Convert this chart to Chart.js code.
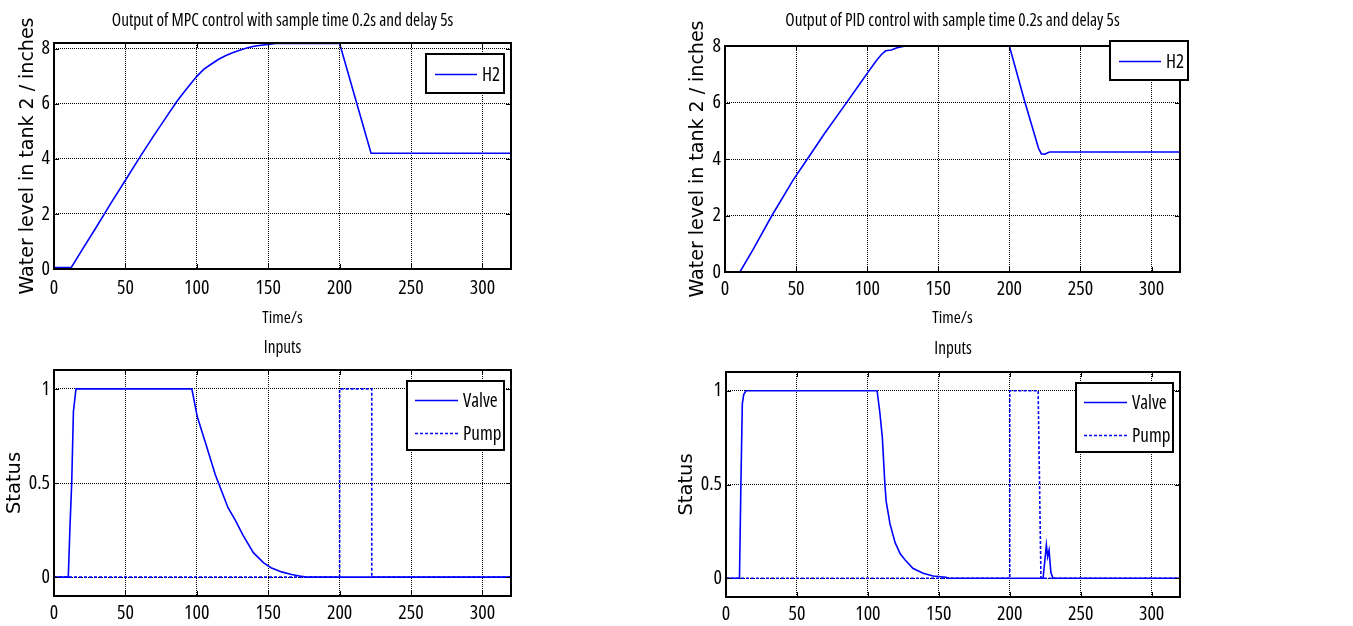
<!DOCTYPE html>
<html>
<head>
<meta charset="utf-8">
<title>MPC vs PID tank level</title>
<script src="https://cdn.jsdelivr.net/npm/chart.js@4.4.1/dist/chart.umd.min.js"></script>
<style>
    html, body { margin: 0; padding: 0; background: #fff; }
    .page { position: relative; width: 1353px; height: 626px; overflow: hidden; }
    .panel { position: absolute; }
    #panel-mpc-level { left: 0; top: 0; width: 530px; height: 330px; }
    #panel-pid-level { left: 671px; top: 0; width: 530px; height: 330px; }
    #panel-mpc-inputs { left: 0; top: 330px; width: 530px; height: 296px; }
    #panel-pid-inputs { left: 671px; top: 330px; width: 530px; height: 296px; }
</style>
</head>
<body>
<div class="page">
    <div class="panel" id="panel-mpc-level"><canvas id="mpcLevelChart"></canvas></div>
    <div class="panel" id="panel-pid-level"><canvas id="pidLevelChart"></canvas></div>
    <div class="panel" id="panel-mpc-inputs"><canvas id="mpcInputsChart"></canvas></div>
    <div class="panel" id="panel-pid-inputs"><canvas id="pidInputsChart"></canvas></div>
</div>
<script>
// tick labels
const timeTicks = [0, 50, 100, 150, 200, 250, 300];
const levelTicks = [0, 2, 4, 6, 8];
const statusTicks = [0, 0.5, 1];

// MPC - water level in tank 2
const mpcLevelTime = [0, 12, 20, 30, 40, 50, 60, 70, 80, 86, 90, 95, 100, 105, 110, 115, 120, 125, 130, 135, 140, 145, 150, 155, 200, 222, 320];
const mpcLevel = [0.05, 0.05, 0.72, 1.55, 2.4, 3.22, 4.05, 4.85, 5.62, 6.08, 6.35, 6.68, 6.99, 7.25, 7.43, 7.6, 7.74, 7.85, 7.94, 8.02, 8.08, 8.12, 8.15, 8.18, 8.18, 4.2, 4.2];

// PID - water level in tank 2
const pidLevelTime = [0, 10.5, 20, 33, 48, 59, 70, 86, 95, 100, 106, 110, 113, 117, 121, 127, 200, 211, 220.5, 222.5, 225, 227, 228.5, 320];
const pidLevel = [0, 0, 0.82, 2.0, 3.26, 4.08, 4.9, 6.03, 6.67, 7.03, 7.45, 7.7, 7.83, 7.86, 7.94, 8.0, 8.0, 6.0, 4.38, 4.18, 4.17, 4.22, 4.25, 4.25];

// MPC - inputs
const mpcValveTime = [0, 10, 11.2, 12.4, 13.6, 15.4, 96.5, 100.4, 106.6, 112.9, 121.8, 127.1, 132.5, 139.6, 146.8, 152, 159.3, 166.4, 173.6, 177, 320];
const mpcValve = [0, 0, 0.27, 0.5, 0.88, 1, 1, 0.85, 0.7, 0.545, 0.37, 0.3, 0.22, 0.13, 0.076, 0.05, 0.028, 0.014, 0.004, 0, 0];
const mpcPumpTime = [0, 200, 200, 222.5, 222.5, 320];
const mpcPump = [0, 0, 1, 1, 0, 0];

// PID - inputs
const pidValveTime = [0, 9.5, 10.5, 11.5, 12.5, 14, 106.5, 108.5, 110.2, 112, 112.9, 115.6, 119.2, 122.8, 126.3, 131.7, 138.9, 146, 155, 157, 223.5, 225.8, 226.7, 227.7, 229, 230.5, 320];
const pidValve = [0, 0, 0.5, 0.93, 0.98, 1, 1, 0.88, 0.75, 0.5, 0.41, 0.29, 0.19, 0.13, 0.097, 0.053, 0.027, 0.012, 0.005, 0, 0, 0.177, 0.115, 0.15, 0.03, 0, 0];
const pidPumpTime = [0, 200, 200, 220, 222, 320];
const pidPump = [0, 0, 1, 1, 0, 0];

(function () {
    const WIDE = "'DejaVu Sans', 'Liberation Sans', sans-serif";
    const BLUE = '#0000ff';

    // the original uses a narrow helvetica; look for something condensed that is installed
    function pickNarrowFont() {
        const ctx = document.createElement('canvas').getContext('2d');
        const sample = 'Output of control 0123456789';
        const measure = (font) => {
            ctx.font = font;
            return ctx.measureText(sample).width;
        };
        const base = measure("16px 'Liberation Sans'");
        const candidates = [
            { weight: 'normal', family: "'Liberation Sans Narrow'" },
            { weight: 'normal', family: "'DejaVu Sans Condensed'" },
            { weight: 'condensed', family: "'Liberation Sans'" },
            { weight: 'condensed', family: "'Noto Sans'" },
            { weight: 'condensed', family: "'Open Sans'" },
            { weight: 'condensed', family: 'Roboto' },
            { weight: 'condensed', family: "'DejaVu Sans'" },
        ];

        for (const c of candidates) {
            const w = measure(c.weight + ' 16px ' + c.family + ', monospace');
            const mono = measure(c.weight + ' 16px monospace');
            if (Math.abs(w - mono) > 1 && w / base < 0.9) {
                const size = Math.min(17, Math.round(16 * (0.86 * base / w) * 10) / 10);
                return { family: c.family + ", 'Liberation Sans', sans-serif", weight: c.weight, size: size };
            }
        }

        return { family: "'Liberation Sans', sans-serif", weight: 'normal', size: 14 };
    }

    const NARROW = pickNarrowFont();

    function narrowFont(scale, lineHeight) {
        return {
            family: NARROW.family,
            weight: NARROW.weight,
            size: Math.round(NARROW.size * (scale || 1) * 10) / 10,
            lineHeight: lineHeight || 1.2,
        };
    }

    function toPoints(xs, ys) {
        return xs.map((x, i) => ({ x: x, y: ys[i] }));
    }

    // black box round the axes with inward tick marks, like matlab
    const framePlugin = {
        id: 'matlabFrame',
        afterDatasetsDraw(chart) {
            const { ctx, chartArea: a, scales } = chart;
            ctx.save();
            ctx.strokeStyle = '#000';
            ctx.lineWidth = 1;
            ctx.setLineDash([]);
            ctx.beginPath();
            scales.x.ticks.forEach((t) => {
                const px = Math.round(scales.x.getPixelForValue(t.value)) + 0.5;
                ctx.moveTo(px, a.bottom); ctx.lineTo(px, a.bottom - 5);
                ctx.moveTo(px, a.top); ctx.lineTo(px, a.top + 5);
            });
            scales.y.ticks.forEach((t) => {
                const py = Math.round(scales.y.getPixelForValue(t.value)) + 0.5;
                ctx.moveTo(a.left, py); ctx.lineTo(a.left + 5, py);
                ctx.moveTo(a.right, py); ctx.lineTo(a.right - 5, py);
            });
            ctx.stroke();
            ctx.lineWidth = 2;
            ctx.strokeRect(a.left, a.top, a.right - a.left, a.bottom - a.top);
            ctx.restore();
        },
    };

    const legendBoxPlugin = {
        id: 'legendBox',
        afterDraw(chart, args, opts) {
            const { ctx, chartArea: a } = chart;
            const x = a.right - opts.right - opts.width;
            const y = a.top + opts.top;
            const f = narrowFont(1.12);
            ctx.save();
            ctx.fillStyle = '#fff';
            ctx.fillRect(x, y, opts.width, opts.height);
            ctx.strokeStyle = '#000';
            ctx.lineWidth = 2;
            ctx.setLineDash([]);
            ctx.strokeRect(x, y, opts.width, opts.height);
            ctx.font = f.weight + ' ' + f.size + 'px ' + f.family;
            ctx.textBaseline = 'middle';
            ctx.fillStyle = '#000';
            chart.data.datasets.forEach((ds, i) => {
                const rowY = Math.round(y + opts.firstRow + i * opts.rowGap) + 0.5;
                ctx.strokeStyle = ds.borderColor;
                ctx.lineWidth = 1.5;
                ctx.setLineDash(ds.borderDash || []);
                ctx.beginPath();
                ctx.moveTo(x + opts.lineStart, rowY);
                ctx.lineTo(x + opts.lineStart + opts.lineLength, rowY);
                ctx.stroke();
                ctx.fillText(ds.label, x + opts.lineStart + opts.lineLength + 5, rowY + 1);
            });
            ctx.restore();
        },
    };

    function makeChart(canvasId, cfg) {
        const canvas = document.getElementById(canvasId);

        if (!canvas) {
            return;
        }

        new Chart(canvas.getContext('2d'), {
            type: 'line',
            data: { datasets: cfg.datasets },
            plugins: [framePlugin, legendBoxPlugin],
            options: {
                responsive: true,
                maintainAspectRatio: false,
                animation: false,
                events: [],
                layout: { padding: { left: 0, right: cfg.padRight, top: 0, bottom: 0 } },
                elements: {
                    point: { radius: 0 },
                    line: { tension: 0, borderWidth: 1.6 },
                },
                plugins: {
                    legend: { display: false },
                    tooltip: { enabled: false },
                    title: {
                        display: true,
                        fullSize: false,
                        text: cfg.title,
                        color: '#000',
                        font: narrowFont(1.01, '18px'),
                        padding: cfg.titlePadding,
                    },
                    legendBox: cfg.legend,
                },
                scales: {
                    x: {
                        type: 'linear',
                        min: 0,
                        max: 320,
                        afterFit: (scale) => { scale.height = cfg.xHeight; },
                        afterBuildTicks: (scale) => { scale.ticks = timeTicks.map((v) => ({ value: v })); },
                        grid: { color: '#000', lineWidth: 1, drawTicks: false },
                        border: { display: false, dash: [1, 1] },
                        ticks: {
                            color: '#000',
                            padding: cfg.xTickPad,
                            maxRotation: 0,
                            font: narrowFont(1.17, '18px'),
                            callback: (v) => String(v),
                        },
                        title: {
                            display: !!cfg.xTitle,
                            text: cfg.xTitle || '',
                            color: '#000',
                            font: narrowFont(1, '18px'),
                            padding: { top: 0, bottom: 3 },
                        },
                    },
                    y: {
                        type: 'linear',
                        min: cfg.yMin,
                        max: cfg.yMax,
                        afterFit: (scale) => { scale.width = cfg.yWidth; },
                        afterBuildTicks: (scale) => { scale.ticks = cfg.yTicks.map((v) => ({ value: v })); },
                        grid: { color: '#000', lineWidth: 1, drawTicks: false },
                        border: { display: false, dash: [1, 1] },
                        ticks: {
                            color: '#000',
                            padding: 4,
                            font: narrowFont(1.17, '18px'),
                            callback: (v) => String(v),
                        },
                        title: {
                            display: true,
                            text: cfg.yTitle,
                            color: '#000',
                            font: { family: WIDE, size: cfg.yTitleSize, lineHeight: '20px' },
                            padding: { top: cfg.yTitlePad, bottom: 0 },
                        },
                    },
                },
            },
        });
    }

    function lineSet(label, xs, ys, dash) {
        return {
            label: label,
            data: toPoints(xs, ys),
            borderColor: BLUE,
            backgroundColor: BLUE,
            borderWidth: 1.6,
            borderDash: dash,
            fill: false,
            clip: 3,
        };
    }

    document.addEventListener('DOMContentLoaded', () => {
        if (!window.Chart) {
            return;
        }

        const oneRow = { width: 78, height: 39, firstRow: 19.5, rowGap: 33, lineStart: 9, lineLength: 42 };
        const twoRows = { width: 97, height: 69, firstRow: 19, rowGap: 33, lineStart: 8, lineLength: 43 };

        makeChart('mpcLevelChart', {
            title: 'Output of MPC control with sample time 0.2s and delay 5s',
            titlePadding: { top: 12, bottom: 13 },
            datasets: [lineSet('H2', mpcLevelTime, mpcLevel)],
            yTicks: levelTicks, yMin: 0, yMax: 8.2,
            yTitle: 'Water level in tank 2 / inches', yTitleSize: 19, yTitlePad: 18, yWidth: 54,
            xTitle: 'Time/s', xHeight: 61, xTickPad: 10, padRight: 19,
            legend: Object.assign({ right: 7, top: 11 }, oneRow),
        });

        makeChart('pidLevelChart', {
            title: 'Output of PID control with sample time 0.2s and delay 5s',
            titlePadding: { top: 12, bottom: 16 },
            datasets: [lineSet('H2', pidLevelTime, pidLevel)],
            yTicks: levelTicks, yMin: 0, yMax: 8,
            yTitle: 'Water level in tank 2 / inches', yTitleSize: 19, yTitlePad: 17, yWidth: 54,
            xTitle: 'Time/s', xHeight: 58, xTickPad: 8, padRight: 21,
            legend: Object.assign({ right: -8, top: -5 }, oneRow),
        });

        makeChart('mpcInputsChart', {
            title: 'Inputs',
            titlePadding: { top: 9, bottom: 13 },
            datasets: [
                lineSet('Valve', mpcValveTime, mpcValve),
                lineSet('Pump', mpcPumpTime, mpcPump, [3, 2]),
            ],
            yTicks: statusTicks, yMin: -0.1, yMax: 1.1,
            yTitle: 'Status', yTitleSize: 19.5, yTitlePad: 5, yWidth: 54,
            xTitle: '', xHeight: 30, xTickPad: 8, padRight: 19,
            legend: Object.assign({ right: 7, top: 11 }, twoRows),
        });

        makeChart('pidInputsChart', {
            title: 'Inputs',
            titlePadding: { top: 10, bottom: 14 },
            datasets: [
                lineSet('Valve', pidValveTime, pidValve),
                lineSet('Pump', pidPumpTime, pidPump, [3, 2]),
            ],
            yTicks: statusTicks, yMin: -0.1, yMax: 1.1,
            yTitle: 'Status', yTitleSize: 19.5, yTitlePad: 6, yWidth: 55,
            xTitle: '', xHeight: 29, xTickPad: 8, padRight: 21,
            legend: Object.assign({ right: 7, top: 11 }, twoRows),
        });
    });
})();
</script>
</body>
</html>
